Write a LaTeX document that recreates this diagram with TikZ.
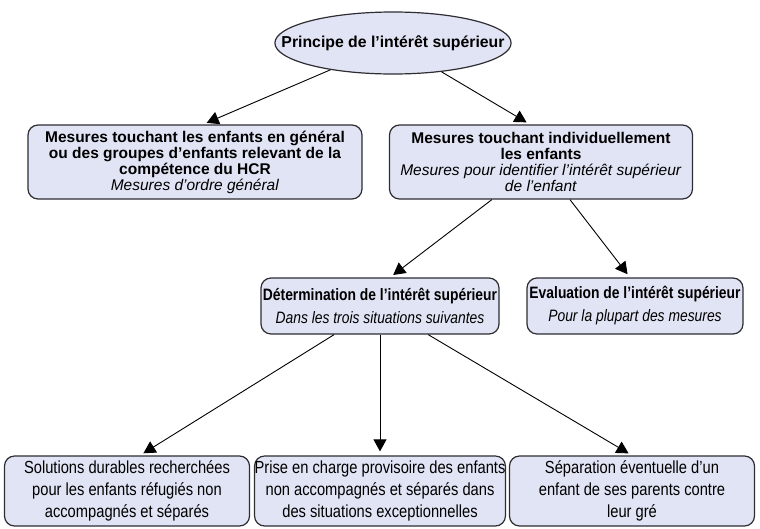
\documentclass[tikz,border=0pt]{standalone}
\usepackage{fontspec}
\setmainfont{Liberation Sans}
\newfontfamily\condfont[FakeStretch=0.84]{Liberation Sans}
\usetikzlibrary{arrows.meta,shapes.geometric}
\definecolor{boxfill}{RGB}{225,228,244}
\definecolor{boxline}{RGB}{45,45,50}

\begin{document}
\begin{tikzpicture}[x=1pt, y=-1pt,
    every node/.style={draw=boxline, line width=1.2pt, fill=boxfill, align=center, inner sep=0pt},
    mesure/.style={rectangle, rounded corners=10pt, minimum height=74pt, font=\fontsize{15.5}{16}\selectfont},
    evalbox/.style={rectangle, rounded corners=10pt, minimum height=56pt, font=\condfont\fontsize{16.5}{23}\selectfont},
    situation/.style={rectangle, rounded corners=10pt, minimum width=245pt, minimum height=70pt, font=\condfont\fontsize{17.5}{22}\selectfont},
    fleche/.style={-{Triangle[length=12pt,width=13pt]}, line width=0.9pt, shorten >=4pt}]
  \useasboundingbox (0,0) rectangle (760,528);

  \node[ellipse, minimum width=234pt, minimum height=62pt, inner xsep=-28pt, inner ysep=12pt, font=\bfseries\fontsize{15.8}{16}\selectfont] (principe) at (393,43) {Principe de l’intérêt supérieur};

  \node[mesure, minimum width=334pt] (general) at (195,162) {\textbf{Mesures touchant les enfants en général}\\ \textbf{ou des groupes d’enfants relevant de la}\\ \textbf{compétence du HCR}\\ \textit{Mesures d’ordre général}};
  \node[mesure, minimum width=303pt] (individuel) at (541,162) {\textbf{Mesures touchant individuellement}\\ \textbf{les enfants}\\ \textit{Mesures pour identifier l’intérêt supérieur}\\ \textit{de l’enfant}};

  \node[evalbox, minimum width=238pt] (determination) at (380,306) {\textbf{Détermination de l’intérêt supérieur}\\ \textit{Dans les trois situations suivantes}};
  \node[evalbox, minimum width=216pt] (evaluation) at (635,306) {\textbf{Evaluation de l’intérêt supérieur}\\ \textit{Pour la plupart des mesures}};

  \node[situation] (solutions) at (127,491) {Solutions durables recherchées\\ pour les enfants réfugiés non\\ accompagnés et séparés};
  \node[situation] (priseencharge) at (380,491) {Prise en charge provisoire des enfants\\ non accompagnés et séparés dans\\ des situations exceptionnelles};
  \node[situation] (separation) at (632,491) {Séparation éventuelle d’un\\ enfant de ses parents contre\\ leur gré};

  \draw[fleche] (principe) -- ([xshift=8pt]general.north);
  \draw[fleche] (principe) -- ([xshift=-11pt]individuel.north);
  \draw[fleche] (individuel) -- ([xshift=10pt]determination.north);
  \draw[fleche] (individuel) -- ([xshift=-5pt]evaluation.north);
  \draw[fleche] (determination) -- ([xshift=13pt]solutions.north);
  \draw[fleche] (determination) -- (priseencharge.north);
  \draw[fleche] (determination) -- (separation.north);
\end{tikzpicture}
\end{document}
